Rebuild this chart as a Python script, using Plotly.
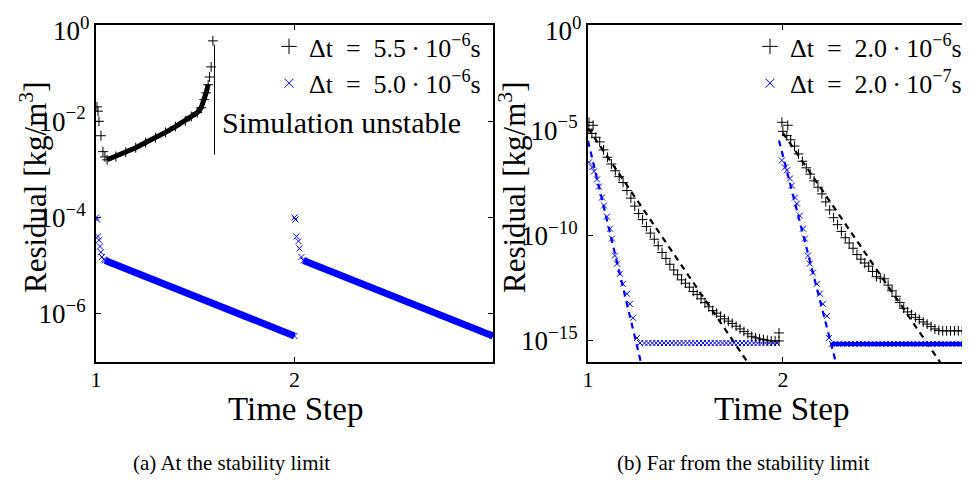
import numpy as np
import plotly.graph_objects as go

FONT = "Liberation Serif"
BLUE = "rgb(0,0,255)"

# ---------------- (a) left panel data: time step vs log10(residual) ----------------
a_black_t = [1.005, 1.010, 1.015, 1.025, 1.035, 1.045, 1.056, 1.10, 1.15, 1.20, 1.25, 1.30,
             1.35, 1.40, 1.45, 1.48, 1.51, 1.53, 1.545, 1.555, 1.565, 1.572, 1.580, 1.589]
a_black_log10 = [-1.70, -1.79, -2.00, -2.30, -2.63, -2.74, -2.80, -2.73, -2.64, -2.55, -2.44, -2.34,
                 -2.23, -2.11, -1.99, -1.90, -1.82, -1.72, -1.55, -1.41, -1.24, -1.08, -0.87, -0.33]

a_blue1_t = [1.000, 1.005, 1.010, 1.015, 1.020, 1.025, 1.030, 1.040, 1.046, 2.000]
a_blue1_log10 = [-4.00, -4.04, -4.39, -4.47, -4.60, -4.72, -4.82, -4.87, -4.89, -6.46]
a_blue2_t = [2.000, 2.005, 2.010, 2.020, 2.025, 2.035, 2.045, 3.000]
a_blue2_log10 = [-4.00, -4.04, -4.39, -4.49, -4.64, -4.82, -4.89, -6.46]

unstable_t = [1.597, 1.597]
unstable_log10 = [-0.41, -2.69]

# ---------------- (b) right panel data ----------------
b_black1_t = [1.000, 1.005, 1.020, 1.026, 1.040, 1.06, 1.08, 1.10, 1.12, 1.14, 1.16, 1.18, 1.20,
              1.22, 1.24, 1.26, 1.28, 1.30, 1.32, 1.34, 1.36, 1.38, 1.40, 1.42, 1.44, 1.46, 1.48,
              1.50, 1.52, 1.54, 1.56, 1.58, 1.60, 1.62, 1.64, 1.66, 1.68, 1.70, 1.72, 1.74, 1.76,
              1.78, 1.80, 1.82, 1.84, 1.86, 1.88, 1.90, 1.92, 1.94, 1.96, 1.98, 1.98]
b_black1_log10 = [-4.95, -4.62, -5.15, -4.76, -5.33, -5.55, -5.93, -6.28, -6.60, -6.92, -7.20, -7.48,
                  -7.86, -8.22, -8.60, -8.95, -9.24, -9.57, -9.88, -10.17, -10.48, -10.80, -11.08,
                  -11.36, -11.63, -11.86, -12.10, -12.26, -12.45, -12.65, -12.80, -13.00, -13.18,
                  -13.38, -13.56, -13.68, -13.83, -13.95, -14.06, -14.17, -14.30, -14.43, -14.55,
                  -14.66, -14.78, -14.85, -14.90, -14.93, -14.97, -15.00, -15.00, -15.00, -14.62]

b_black2_t = [1.995, 2.000, 2.020, 2.025, 2.04, 2.06, 2.08, 2.10, 2.12, 2.14, 2.16, 2.18, 2.20,
              2.22, 2.24, 2.26, 2.28, 2.30, 2.32, 2.34, 2.36, 2.38, 2.40, 2.42, 2.44, 2.46, 2.48,
              2.50, 2.52, 2.54, 2.56, 2.58, 2.60, 2.62, 2.64, 2.66, 2.68, 2.70, 2.72, 2.74, 2.76,
              2.78, 2.80, 2.82, 2.84, 2.86, 2.88, 2.90, 2.92, 2.94, 2.96]
b_black2_log10 = [-4.62, -5.05, -5.25, -4.76, -5.45, -5.75, -6.12, -6.47, -6.78, -7.08, -7.40, -7.70,
                  -8.02, -8.40, -8.78, -9.15, -9.48, -9.80, -10.10, -10.35, -10.60, -10.90, -11.12,
                  -11.30, -11.45, -11.70, -11.95, -12.02, -12.05, -12.35, -12.62, -12.88, -13.18,
                  -13.45, -13.62, -13.75, -13.88, -13.98, -14.10, -14.20, -14.32, -14.43, -14.50,
                  -14.52, -14.52, -14.52, -14.52, -14.52, -14.52, -14.52, -14.52]

b_blue1_t = [1.005, 1.021, 1.031, 1.046, 1.056, 1.072, 1.082, 1.097, 1.113, 1.123, 1.138, 1.149,
             1.164, 1.179, 1.200, 1.215, 1.231, 1.251, 1.267,
             1.29, 1.31, 1.33, 1.35, 1.37, 1.39, 1.41, 1.43, 1.45, 1.47, 1.49, 1.51, 1.53, 1.55,
             1.57, 1.59, 1.61, 1.63, 1.65, 1.67, 1.69, 1.71, 1.73, 1.75, 1.77, 1.79, 1.81, 1.83,
             1.85, 1.87, 1.89, 1.91, 1.93, 1.95, 1.97]
b_blue1_log10 = [-6.52, -6.76, -6.95, -7.33, -7.67, -8.19, -8.57, -9.10, -9.67, -10.14, -10.95, -11.33,
                 -11.81, -12.29, -12.76, -13.24, -13.90, -14.86, -15.10,
                 -15.10, -15.10, -15.10, -15.10, -15.10, -15.10, -15.10, -15.10, -15.10, -15.10,
                 -15.10, -15.10, -15.10, -15.10, -15.10, -15.10, -15.10, -15.10, -15.10, -15.10,
                 -15.10, -15.10, -15.10, -15.10, -15.10, -15.10, -15.10, -15.10, -15.10, -15.10,
                 -15.10, -15.10, -15.10, -15.10, -15.10]

b_blue2_t = [1.995, 2.010, 2.021, 2.036, 2.046, 2.062, 2.072, 2.087, 2.103, 2.113, 2.128, 2.138,
             2.154, 2.174, 2.190, 2.205, 2.226, 2.236, 2.251,
             2.27, 2.29, 2.31, 2.33, 2.35, 2.37, 2.39, 2.41, 2.43, 2.45, 2.47, 2.49, 2.51, 2.53,
             2.55, 2.57, 2.59, 2.61, 2.63, 2.65, 2.67, 2.69, 2.71, 2.73, 2.75, 2.77, 2.79, 2.81,
             2.83, 2.85, 2.87, 2.89, 2.91, 2.93, 2.95, 2.97]
b_blue2_log10 = [-6.43, -6.76, -6.90, -7.29, -7.62, -8.19, -8.48, -9.05, -9.67, -10.14, -10.95, -11.33,
                 -11.76, -12.29, -12.76, -13.24, -13.81, -14.86, -15.14,
                 -15.14, -15.14, -15.14, -15.14, -15.14, -15.14, -15.14, -15.14, -15.14, -15.14,
                 -15.14, -15.14, -15.14, -15.14, -15.14, -15.14, -15.14, -15.14, -15.14, -15.14,
                 -15.14, -15.14, -15.14, -15.14, -15.14, -15.14, -15.14, -15.14, -15.14, -15.14,
                 -15.14, -15.14, -15.14, -15.14, -15.14]

# fitted convergence-rate lines (dashed), endpoints
fit_black1_t, fit_black1_log10 = [1.000, 1.855], [-4.90, -16.5]
fit_black2_t, fit_black2_log10 = [2.000, 2.843], [-5.12, -16.5]
fit_blue1_t, fit_blue1_log10 = [1.000, 1.284], [-5.50, -16.5]
fit_blue2_t, fit_blue2_log10 = [1.980, 2.285], [-5.48, -16.5]

a_ticks = [0, -2, -4, -6]
b_ticks = [0, -5, -10, -15]
EN = "\u2002"
TH = "\u2009"
legend_a = ["Δt" + EN + "=" + EN + "5.5" + TH + "·" + TH + "10<sup>−6</sup>s",
            "Δt" + EN + "=" + EN + "5.0" + TH + "·" + TH + "10<sup>−6</sup>s"]
legend_b = ["Δt" + EN + "=" + EN + "2.0" + TH + "·" + TH + "10<sup>−6</sup>s",
            "Δt" + EN + "=" + EN + "2.0" + TH + "·" + TH + "10<sup>−7</sup>s"]


def p10(v):
    return [10.0 ** x for x in v]


def plus(size=7, color="black"):
    return dict(symbol="cross-thin", size=size, color=color, line=dict(width=1, color=color))


def cross(size=6, color=BLUE):
    return dict(symbol="x-thin", size=size, color=color, line=dict(width=1, color=color))


fig = go.Figure()

# ---- panel (a) ----
fig.add_trace(go.Scatter(x=a_black_t[6:21], y=p10(a_black_log10[6:21]), mode="lines",
                         line=dict(color="black", width=5), showlegend=False, xaxis="x", yaxis="y"))
fig.add_trace(go.Scatter(x=a_black_t, y=p10(a_black_log10), mode="markers", marker=plus(7),
                         showlegend=False, xaxis="x", yaxis="y"))
for tt, ll in [(a_blue1_t, a_blue1_log10), (a_blue2_t, a_blue2_log10)]:
    fig.add_trace(go.Scatter(x=tt[-2:], y=p10(ll[-2:]), mode="lines",
                             line=dict(color=BLUE, width=7), showlegend=False, xaxis="x", yaxis="y"))
    fig.add_trace(go.Scatter(x=tt, y=p10(ll), mode="markers", marker=cross(6),
                             showlegend=False, xaxis="x", yaxis="y"))
fig.add_trace(go.Scatter(x=unstable_t, y=p10(unstable_log10), mode="lines",
                         line=dict(color="black", width=1), showlegend=False, xaxis="x", yaxis="y"))
fig.add_trace(go.Scatter(x=[None], y=[None], mode="markers", marker=plus(11), name=legend_a[0],
                         legend="legend", xaxis="x", yaxis="y"))
fig.add_trace(go.Scatter(x=[None], y=[None], mode="markers", marker=cross(9), name=legend_a[1],
                         legend="legend", xaxis="x", yaxis="y"))

# ---- panel (b) ----
for tt, ll, col in [(fit_black1_t, fit_black1_log10, "black"), (fit_black2_t, fit_black2_log10, "black"),
                    (fit_blue1_t, fit_blue1_log10, BLUE), (fit_blue2_t, fit_blue2_log10, BLUE)]:
    fig.add_trace(go.Scatter(x=tt, y=p10(ll), mode="lines",
                             line=dict(color=col, width=2.2, dash="6px,5px"),
                             showlegend=False, xaxis="x2", yaxis="y2"))
fig.add_trace(go.Scatter(x=b_blue2_t[18:], y=p10(b_blue2_log10[18:]), mode="lines",
                         line=dict(color=BLUE, width=4), showlegend=False, xaxis="x2", yaxis="y2"))
for tt, ll in [(b_blue1_t, b_blue1_log10), (b_blue2_t, b_blue2_log10)]:
    fig.add_trace(go.Scatter(x=tt, y=p10(ll), mode="markers", marker=cross(6),
                             showlegend=False, xaxis="x2", yaxis="y2"))
for tt, ll in [(b_black1_t, b_black1_log10), (b_black2_t, b_black2_log10)]:
    fig.add_trace(go.Scatter(x=tt, y=p10(ll), mode="markers", marker=plus(7),
                             showlegend=False, xaxis="x2", yaxis="y2"))
fig.add_trace(go.Scatter(x=[None], y=[None], mode="markers", marker=plus(11), name=legend_b[0],
                         legend="legend2", xaxis="x2", yaxis="y2"))
fig.add_trace(go.Scatter(x=[None], y=[None], mode="markers", marker=cross(9), name=legend_b[1],
                         legend="legend2", xaxis="x2", yaxis="y2"))

# page body has an 8px default margin: lay the figure out in page pixels minus that offset
OFF = 8
W, H = 970 - OFF, 486 - OFF


def xp(X):
    return (X - OFF) / W


def yp(Y):
    return 1 - (Y - OFF) / H


ydom = [yp(362), yp(25)]
axis_common = dict(showline=True, linewidth=2, linecolor="black", ticks="inside", ticklen=5,
                   tickwidth=1, tickcolor="black", showgrid=False, zeroline=False, automargin=False,
                   ticklabeloverflow="allow")


def sup_labels(exps):
    # the topmost label (10^0) is placed as an annotation slightly lower so it is not clipped
    return ["" if e == 0 else "10<sup>%s</sup>" % (str(e).replace("-", "−")) for e in exps]


fig.update_layout(
    width=W, height=H, margin=dict(l=0, r=0, t=0, b=0, autoexpand=False),
    paper_bgcolor="white", plot_bgcolor="white",
    font=dict(family=FONT, color="black", size=22),
    xaxis=dict(domain=[xp(96), xp(493)], range=[1, 3], tickvals=[1, 2], ticktext=["1", "2"],
               mirror="ticks", anchor="y", tickfont=dict(size=22), ticklabelstandoff=-3, **axis_common),
    yaxis=dict(domain=ydom, type="log", range=[-7, 0], tickvals=p10(a_ticks), ticktext=sup_labels(a_ticks),
               mirror="ticks", anchor="x", tickfont=dict(size=27), ticklabelstandoff=3, **axis_common),
    xaxis2=dict(domain=[xp(588), 1.0], range=[1, 2.96], tickvals=[1, 2], ticktext=["1", "2"],
                mirror="ticks", anchor="y2", tickfont=dict(size=22), ticklabelstandoff=-3, **axis_common),
    yaxis2=dict(domain=ydom, type="log", range=[-16, 0], tickvals=p10(b_ticks), ticktext=sup_labels(b_ticks),
                mirror=False, anchor="x2", tickfont=dict(size=27), ticklabelstandoff=3, **axis_common),
    legend=dict(x=xp(486), xanchor="right", y=yp(23), yanchor="top", bgcolor="rgba(0,0,0,0)",
                font=dict(size=26, family=FONT), tracegroupgap=0, itemwidth=30),
    legend2=dict(x=xp(967), xanchor="right", y=yp(23), yanchor="top", bgcolor="rgba(0,0,0,0)",
                 font=dict(size=26, family=FONT), tracegroupgap=0, itemwidth=30),
)

ann = [
    dict(text="10<sup>0</sup>", x=xp(91), y=yp(29), xanchor="right", font=dict(size=27)),
    dict(text="10<sup>0</sup>", x=xp(583), y=yp(29), xanchor="right", font=dict(size=27)),
    dict(text="Residual [kg/m<sup>3</sup>]", x=xp(33), y=yp(188), textangle=-90, font=dict(size=31)),
    dict(text="Residual [kg/m<sup>3</sup>]", x=xp(512), y=yp(188), textangle=-90, font=dict(size=31)),
    dict(text="Time Step", x=xp(295), y=yp(409), font=dict(size=33)),
    dict(text="Time Step", x=xp(781), y=yp(409), font=dict(size=33)),
    dict(text="(a) At the stability limit", x=xp(231), y=yp(463), font=dict(size=21)),
    dict(text="(b) Far from the stability limit", x=xp(743), y=yp(463), font=dict(size=21)),
]
for a in ann:
    a.setdefault("xanchor", "center")
    a.update(xref="paper", yref="paper", showarrow=False, yanchor="middle")
    fig.add_annotation(**a)

fig.add_annotation(text="Simulation unstable", x=1.623, y=-2.03, xref="x", yref="y", showarrow=False,
                   xanchor="left", yanchor="middle", font=dict(size=30, family=FONT))

fig.write_html("out.html")
